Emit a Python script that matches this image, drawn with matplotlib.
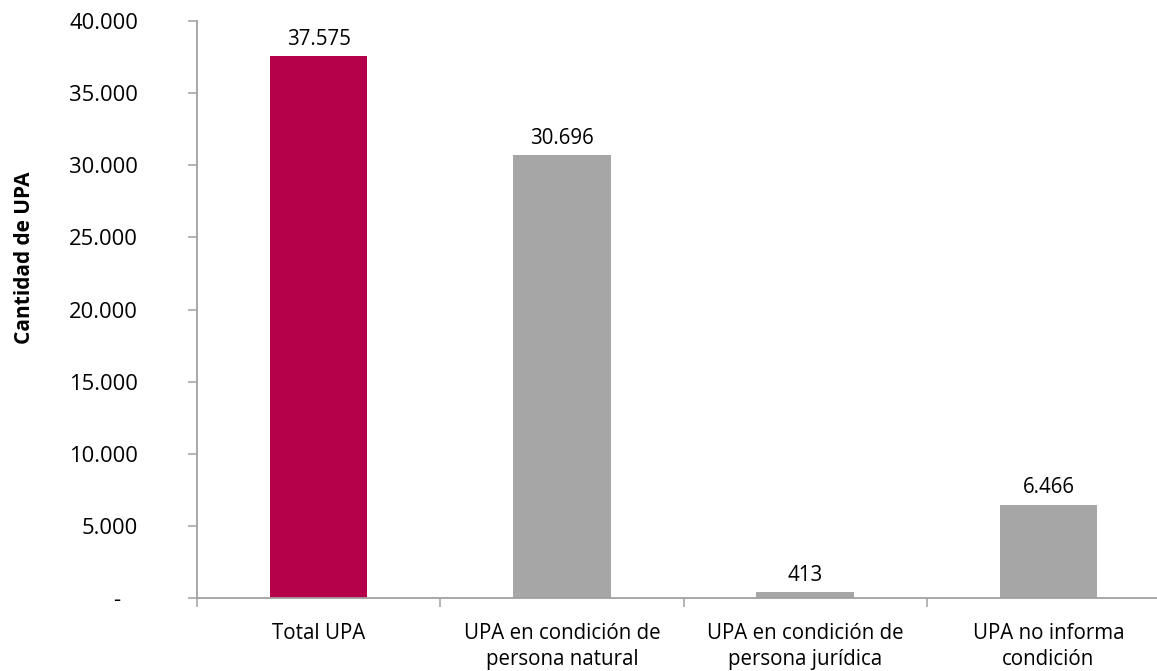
import matplotlib
matplotlib.use("Agg")
import matplotlib.pyplot as plt
from matplotlib.ticker import FuncFormatter

categories = ["Total UPA", "UPA en condición de\npersona natural",
              "UPA en condición de\npersona jurídica", "UPA no informa\ncondición"]
values = [37575, 30696, 413, 6466]
colors = ["#B5004A", "#A6A6A6", "#A6A6A6", "#A6A6A6"]
yticks = [0, 5000, 10000, 15000, 20000, 25000, 30000, 35000, 40000]

plt.rcParams['font.family'] = ['Open Sans', 'DejaVu Sans']

W, H = 1157, 671
fig = plt.figure(figsize=(W/100, H/100), dpi=100)
ax_w = 973
ax = fig.add_axes([197/W, (H-598)/H, ax_w/W, (598-21)/H])

x = list(range(len(categories)))
bars = ax.bar(x, values, width=0.4, color=colors)

def fmt(v):
    return f"{v:,.0f}".replace(",", ".")

ax.bar_label(bars, labels=[fmt(v) for v in values], padding=4.5, fontsize=14.8, color="#000000")

ax.set_xlim(-0.5, 3.5)
ax.set_ylim(0, 40000)
ax.set_yticks(yticks)
ax.yaxis.set_major_formatter(FuncFormatter(lambda v, p: "-   " if v == 0 else fmt(v)))
ax.tick_params(axis='y', length=6.5, width=1.1, color="#A0A0A0", pad=36, labelsize=15.8)

ax.set_xticks(x)
ax.set_xticklabels(categories, fontsize=14.8, linespacing=1.3)
ax.set_xticks([-0.5, 0.5, 1.5, 2.5, 3.5], minor=True)
ax.tick_params(axis='x', which='major', length=0, pad=18)
ax.tick_params(axis='x', which='minor', length=6.5, width=1.1, color="#A0A0A0")

for s in ['top', 'right']:
    ax.spines[s].set_visible(False)
for s in ['left', 'bottom']:
    ax.spines[s].set_color("#A0A0A0")
    ax.spines[s].set_linewidth(1.3)

fig.text(25/W, 1 - 258/H, "Cantidad de UPA", rotation=90, fontsize=15,
         fontweight='bold', ha='center', va='center')

fig.savefig("out.png", dpi=100)
